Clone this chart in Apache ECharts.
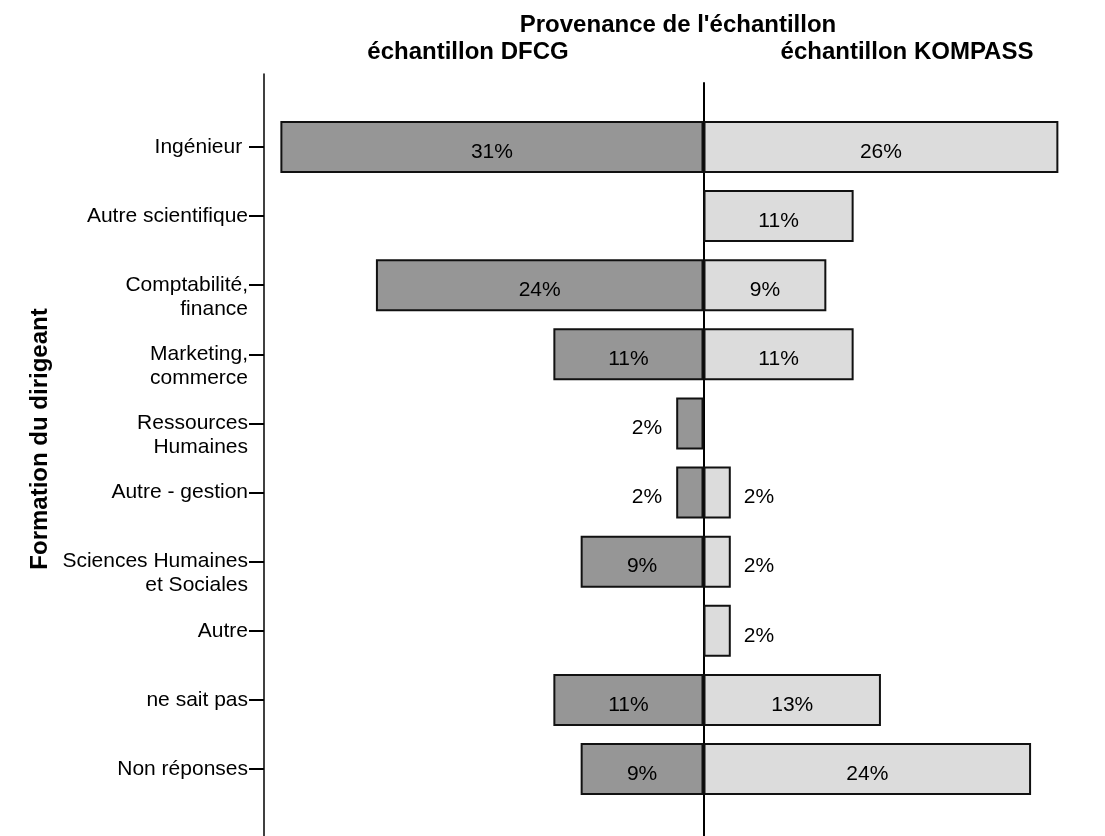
<!DOCTYPE html>
<html>
<head>
<meta charset="utf-8">
<title>Formation du dirigeant par provenance de l'échantillon</title>
<script src="https://cdn.jsdelivr.net/npm/echarts@6/dist/echarts.min.js"></script>
<style>
  html, body { margin: 0; padding: 0; background: #fff; }
  #chart { width: 1105px; height: 836px; }
</style>
</head>
<body>
<div id="chart"></div>
<script>
// Education of the company head, by sample source (percent of respondents)
const categories = [
  'Ingénieur ',
  'Autre scientifique',
  'Comptabilité,\nfinance',
  'Marketing,\ncommerce',
  'Ressources\nHumaines',
  'Autre - gestion',
  'Sciences Humaines\net Sociales',
  'Autre',
  'ne sait pas',
  'Non réponses'
];
const dfcgValues    = [31, null, 24, 11, 2, 2, 9, null, 11, 9];
const kompassValues = [26, 11, 9, 11, null, 2, 2, 2, 13, 24];

const chartTitle = "Provenance de l'échantillon";
const leftTitle = 'échantillon DFCG';
const rightTitle = 'échantillon KOMPASS';
const axisTitle = 'Formation du dirigeant';

const FONT = "'Liberation Sans', Arial, Helvetica, sans-serif";
const BOLD = 'bold 24px ' + FONT;
const X_MIN = -32.2, X_MAX = 29.05;

// Bars too narrow for their label get it placed outside
function items(values, side) {
  return values.map(v => {
    if (v === null) return { value: null };
    const val = side === 'left' ? -v : v;
    const inside = v >= 5;
    return {
      value: val,
      label: {
        position: inside ? 'inside' : (side === 'left' ? 'left' : 'right'),
        distance: side === 'left' ? 14 : 13
      }
    };
  });
}

const barLabel = {
  show: true,
  formatter: p => Math.abs(p.value) + '%',
  color: '#000',
  fontFamily: FONT,
  fontSize: 21,
  offset: [0, 5]
};

const chart = echarts.init(document.getElementById('chart'), null, { renderer: 'canvas' });

chart.setOption({
  animation: false,
  backgroundColor: '#fff',
  grid: [
    { left: 264, right: 5, top: 112.45, bottom: 32.45 },   // bars
    { left: 264, right: 5, top: 74, bottom: 0 },           // left axis line
    { left: 264, right: 5, top: 83, bottom: 0 }            // zero line
  ],
  xAxis: [
    { gridIndex: 0, type: 'value', min: X_MIN, max: X_MAX, show: false },
    { gridIndex: 1, type: 'value', min: X_MIN, max: X_MAX, show: false },
    { gridIndex: 2, type: 'value', min: X_MIN, max: X_MAX, show: false }
  ],
  yAxis: [
    {
      gridIndex: 0,
      type: 'category',
      data: categories,
      inverse: true,
      position: 'left',
      axisLine: { show: false, onZero: false },
      axisTick: { show: true, alignWithLabel: true, length: 15, lineStyle: { color: '#000', width: 2 } },
      axisLabel: {
        color: '#000',
        fontFamily: FONT,
        fontSize: 21,
        lineHeight: 24,
        align: 'right',
        verticalAlign: 'top',
        padding: [-12, 0, 0, 0],
        margin: 16
      },
      splitLine: { show: false }
    },
    {
      gridIndex: 1,
      type: 'value',
      position: 'left',
      axisLine: { show: true, onZero: false, lineStyle: { color: '#000', width: 1.5 } },
      axisTick: { show: false },
      axisLabel: { show: false },
      splitLine: { show: false }
    },
    {
      gridIndex: 2,
      type: 'value',
      axisLine: { show: true, onZero: true, lineStyle: { color: '#000', width: 2 } },
      axisTick: { show: false },
      axisLabel: { show: false },
      splitLine: { show: false }
    }
  ],
  series: [
    {
      name: 'échantillon DFCG',
      type: 'bar',
      xAxisIndex: 0,
      yAxisIndex: 0,
      barWidth: 52,
      barGap: '-100%',
      data: items(dfcgValues, 'left'),
      itemStyle: { color: '#969696', borderColor: '#111', borderWidth: 2 },
      label: barLabel
    },
    {
      name: 'échantillon KOMPASS',
      type: 'bar',
      xAxisIndex: 0,
      yAxisIndex: 0,
      barWidth: 52,
      barGap: '-100%',
      data: items(kompassValues, 'right'),
      itemStyle: { color: '#dcdcdc', borderColor: '#111', borderWidth: 2 },
      label: barLabel
    }
  ],
  graphic: [
    {
      type: 'text', x: 678, y: 25,
      style: { text: chartTitle, font: BOLD, fill: '#000', align: 'center', verticalAlign: 'middle' }
    },
    {
      type: 'text', x: 468, y: 52,
      style: { text: leftTitle, font: BOLD, fill: '#000', align: 'center', verticalAlign: 'middle' }
    },
    {
      type: 'text', x: 907, y: 52,
      style: { text: rightTitle, font: BOLD, fill: '#000', align: 'center', verticalAlign: 'middle' }
    },
    {
      type: 'text', x: 40, y: 439, rotation: Math.PI / 2,
      style: { text: axisTitle, font: BOLD, fill: '#000', align: 'center', verticalAlign: 'middle' }
    }
  ]
});
</script>
</body>
</html>
